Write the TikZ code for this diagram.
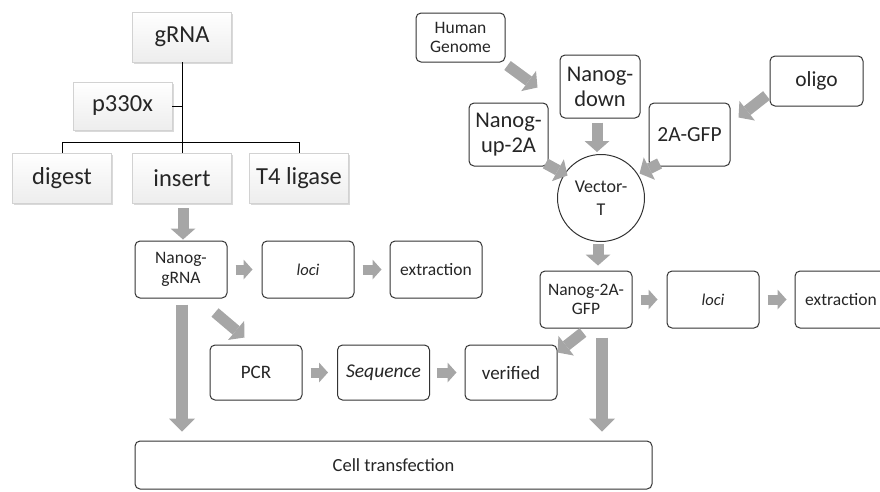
\documentclass[tikz,border=0pt]{standalone}
\usepackage{fontspec}
\setmainfont{Carlito}
\usetikzlibrary{arrows.meta,shadows,calc}
\definecolor{agray}{RGB}{166,166,166}
\definecolor{txt}{RGB}{38,38,38}
\begin{document}
\begin{tikzpicture}[x=1pt,y=-1pt,
  shbox/.style={draw=gray!35, line width=0.6pt, top color=white, bottom color=gray!14,
    drop shadow={shadow xshift=1.6pt, shadow yshift=-1.8pt, opacity=0.3},
    inner sep=0pt, minimum width=99pt, minimum height=50pt,
    font=\fontsize{24.5}{26}\selectfont, text=txt},
  rbox/.style={draw=black!80, line width=1pt, rounded corners=5pt, fill=white,
    inner sep=0pt, minimum width=92pt, minimum height=57pt, align=center, text=txt,
    font=\fontsize{17.5}{19.5}\selectfont},
  tree/.style={draw=black, line width=1pt},
  blk/.style={draw=agray, line width=10pt,
    -{Triangle[length=9pt,width=20pt,line width=0pt]}},
  midblk/.style={draw=agray, line width=11pt,
    -{Triangle[length=11pt,width=25pt,line width=0pt]}},
  bigblk/.style={draw=agray, line width=12pt,
    -{Triangle[length=13pt,width=26pt,line width=0pt]}},
]
\useasboundingbox (0,0) rectangle (880,491);

% ---- left tree ----
\node[shbox] (grna) at (182,37) {gRNA};
\node[shbox, minimum height=48pt] (p330) at (122.5,106) {p330x};
\node[shbox] (digest) at (62,178) {digest};
\node[shbox] (insert) at (182,178) {insert};
\node[shbox] (t4) at (299,178) {T4 ligase};

\draw[tree] (grna.south) -- (insert.north);
\draw[tree] (digest.north) -- ++(0,-10) -| (t4.north);
\draw[tree] (p330.east) -- (p330.east -| grna.south);

% ---- left rows ----
\node[rbox] (ngrna) at (181,269.5) {Nanog-\\gRNA};
\node[rbox, font=\fontsize{16.5}{18}\selectfont\itshape] (loci1) at (308,269.5) {loci};
\node[rbox] (ext1) at (436,269.5) {extraction};

\draw[midblk] ($(insert.south)+(1,5)$) -- ($(insert.south |- ngrna.north)+(1,-1)$);
\draw[blk, shorten <=8pt, shorten >=9pt] (ngrna) -- (loci1);
\draw[blk, shorten <=8pt, shorten >=8pt] (loci1) -- (ext1);

\node[rbox, minimum height=55pt, font=\fontsize{19}{20}\selectfont] (pcr) at (256,372.5) {PCR};
\node[rbox, minimum height=55pt, font=\fontsize{19.5}{20}\selectfont\itshape] (seq) at (383.5,372.5) {Sequence};
\node[rbox, minimum height=55pt, font=\fontsize{19}{20}\selectfont] (ver) at (511,372.5) {verified};

\draw[blk, shorten <=8pt, shorten >=9pt] (pcr) -- (seq);
\draw[blk, shorten <=7pt, shorten >=8pt] (seq) -- (ver);
\draw[midblk] ($(ngrna.south)+(34,14)$) -- ($(pcr.north west)+(35,-7)$);

\node[rbox, minimum width=517pt, minimum height=48pt, font=\fontsize{18.5}{19}\selectfont] (cell) at (393.5,465) {Cell transfection};
\draw[bigblk] ($(ngrna.south)+(1,6)$) -- ($(ngrna.south |- cell.north)+(1,-9)$);

% ---- right side ----
\node[rbox, minimum width=89pt, minimum height=49pt] (hg) at (460.5,37.5) {Human\\Genome};
\node[rbox, minimum width=80pt, minimum height=63pt, font=\fontsize{22.5}{25}\selectfont] (ndown) at (600,86.5) {Nanog-\\down};
\node[rbox, minimum width=79pt, minimum height=63pt, font=\fontsize{22.5}{25}\selectfont] (nup) at (508.5,134.5) {Nanog-\\up-2A};
\node[rbox, minimum width=81pt, minimum height=63pt, font=\fontsize{21.5}{24}\selectfont] (gfp) at (689.5,134.5) {2A-GFP};
\node[rbox, minimum width=93pt, minimum height=50pt, font=\fontsize{21.5}{24}\selectfont] (oligo) at (816.5,81) {oligo};
\node[draw=black!80, line width=1pt, fill=white, circle, minimum size=87pt, inner sep=0pt,
  align=center, text=txt, font=\fontsize{18}{23}\selectfont] (vec) at (601,198) {Vector-\\T};

\draw[midblk] ($(hg.south east)+(2,3)$) -- ($(hg.south east)+(32,25)$);
\draw[midblk] ($(ndown.south)+(-3,4)$) -- ($(ndown.south |- vec.north)+(-3,-2)$);
\draw[midblk] ($(nup.south east)+(-3,-3)$) -- ($(nup.south east)+(19,9)$);
\draw[midblk] ($(gfp.south west)+(11,-3)$) -- ($(gfp.south west)+(-9,7)$);
\draw[midblk] ($(oligo.south west)+(-3,-11)$) -- ($(gfp.north east)+(8,15)$);

\node[rbox] (n2a) at (586,299.5) {Nanog-2A-\\GFP};
\node[rbox, font=\fontsize{16.5}{18}\selectfont\itshape] (loci2) at (713,299.5) {loci};
\node[rbox] (ext2) at (841,299.5) {extraction};

\draw[midblk] ($(vec.south)+(-3,2)$) -- ($(vec.south |- n2a.north)+(-3,-5)$);
\draw[blk, shorten <=8pt, shorten >=9pt] (n2a) -- (loci2);
\draw[blk, shorten <=8pt, shorten >=8pt] (loci2) -- (ext2);
\draw[midblk] ($(n2a.south)+(-3,4)$) -- ($(ver.north east)+(0,8)$);
\draw[bigblk] ($(n2a.south)+(16,9)$) -- ($(n2a.south |- cell.north)+(16,-9)$);
\end{tikzpicture}
\end{document}
